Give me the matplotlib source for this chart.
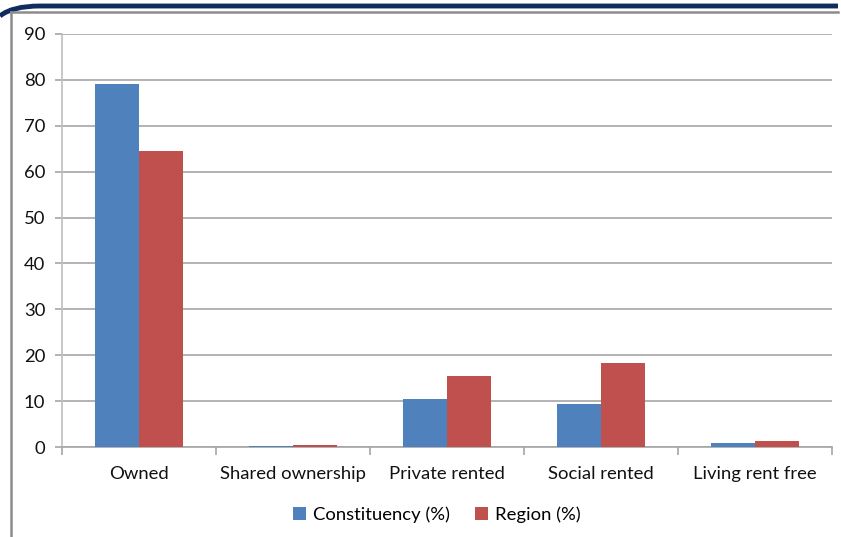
import matplotlib
matplotlib.use("Agg")
import matplotlib.pyplot as plt
import numpy as np
from matplotlib.path import Path
from matplotlib.patches import PathPatch
from matplotlib.lines import Line2D

categories = ["Owned", "Shared ownership", "Private rented", "Social rented", "Living rent free"]
constituency = [79.0, 0.3, 10.4, 9.4, 0.9]
region = [64.5, 0.5, 15.5, 18.2, 1.3]
series_names = ["Constituency (%)", "Region (%)"]
yticks = [0, 10, 20, 30, 40, 50, 60, 70, 80, 90]

plt.rcParams['font.family'] = ['Lato', 'DejaVu Sans']

W, H = 841, 537
fig = plt.figure(figsize=(W/100, H/100), dpi=100)
ax = fig.add_axes([62/W, 1-447/H, (832-62)/W, (447-34)/H])

x = np.arange(len(categories))
bw = 0.286
ax.bar(x - bw/2, constituency, width=bw, color="#4F81BD", label=series_names[0], zorder=3)
ax.bar(x + bw/2, region, width=bw, color="#C0504D", label=series_names[1], zorder=3)

ax.set_xlim(-0.5, len(categories) - 0.5)
ax.set_ylim(0, 90)
ax.set_yticks(yticks)
ax.set_yticklabels([str(v) for v in yticks])
ax.yaxis.grid(True, color="#A6A6A6", linewidth=1.2, zorder=0)
ax.set_axisbelow(True)

ax.set_xticks(x)
ax.set_xticklabels(categories)
ax.tick_params(axis='x', length=0, pad=14, labelsize=13.3, colors="#111111")
ax.set_xticks(np.arange(len(categories) + 1) - 0.5, minor=True)
ax.tick_params(axis='x', which='minor', length=6, width=1.2, color="#A6A6A6")
ax.tick_params(axis='y', length=5, width=1.2, color="#A6A6A6", labelsize=13.3, pad=7,
               labelcolor="#111111")

for s in ['top', 'right']:
    ax.spines[s].set_visible(False)
ax.spines['left'].set_color("#BFBFBF")
ax.spines['left'].set_linewidth(1.2)
ax.spines['bottom'].set_color("#A6A6A6")
ax.spines['bottom'].set_linewidth(1.2)

leg = fig.legend(loc='center', bbox_to_anchor=(437/W, 1-515/H), ncol=2, frameon=False,
                 fontsize=13.3, handlelength=0.7, handleheight=0.7, handletextpad=0.4,
                 columnspacing=1.35)

# decorative frame
def fx(px):
    return px / W
def fy(py):
    return 1 - py / H

fig.add_artist(Line2D([fx(11), fx(838)], [fy(12), fy(12)], transform=fig.transFigure,
                      color="#8C8C8C", linewidth=1.8))
fig.add_artist(Line2D([fx(11), fx(11)], [fy(12), fy(537)], transform=fig.transFigure,
                      color="#8C8C8C", linewidth=1.8))
verts = [(fx(0), fy(16)), (fx(12), fy(6)), (fx(40), fy(6)), (fx(838), fy(6))]
codes = [Path.MOVETO, Path.CURVE3, Path.CURVE3, Path.LINETO]
fig.add_artist(PathPatch(Path(verts, codes), transform=fig.transFigure, facecolor='none',
                         edgecolor="#0F2B5F", linewidth=3.5))

fig.savefig("out.png", dpi=100)
